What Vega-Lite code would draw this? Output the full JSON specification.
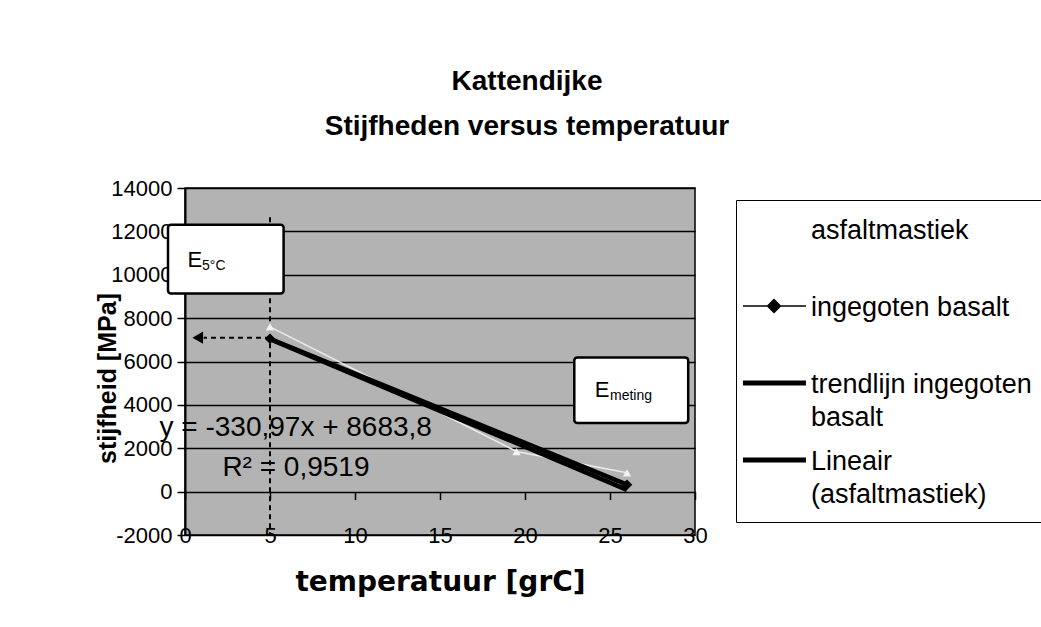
{
  "$schema": "https://vega.github.io/schema/vega-lite/v6.json",
  "width": 510,
  "height": 347,
  "autosize": {"type": "none"},
  "padding": {"left": 185, "top": 188, "right": 346, "bottom": 92},
  "background": "white",
  "config": {
    "font": "Liberation Sans",
    "view": {"stroke": "black", "strokeWidth": 1.5, "fill": "#b3b3b3"}
  },
  "title": {
    "text": ["Kattendijke", "Stijfheden versus temperatuur"],
    "font": "Liberation Sans",
    "fontSize": 28,
    "fontWeight": "bold",
    "color": "black",
    "anchor": "middle",
    "frame": "group",
    "dx": 87,
    "lineHeight": 45,
    "offset": 8,
    "baseline": "bottom"
  },
  "datasets": {
    "series": [
      {"series": "asfaltmastiek", "x": 5, "y": 7600},
      {"series": "asfaltmastiek", "x": 19.5, "y": 1850},
      {"series": "asfaltmastiek", "x": 26, "y": 870},
      {"series": "ingegoten basalt", "x": 5, "y": 7050},
      {"series": "ingegoten basalt", "x": 26, "y": 320},
      {"series": "trendlijn ingegoten basalt", "x": 5, "y": 7050},
      {"series": "trendlijn ingegoten basalt", "x": 26, "y": 320},
      {"series": "Lineair (asfaltmastiek)", "x": 5, "y": 7030},
      {"series": "Lineair (asfaltmastiek)", "x": 26, "y": 80}
    ],
    "vline": [{"x": 5, "y": 12650, "y2": -2000}],
    "harrow": [{"x": 5, "x2": 1.1, "y": 7100}],
    "arrowhead": [{"x": 0.75, "y": 7100}],
    "boxes": [
      {"x": -1, "x2": 5.8, "y": 12300, "y2": 9130},
      {"x": 22.9, "x2": 29.6, "y": 6190, "y2": 3170}
    ],
    "bigletters": [
      {"label": "E", "x": 0.15, "y": 10690},
      {"label": "E", "x": 24.1, "y": 4700}
    ],
    "subscripts": [
      {"label": "5°C", "x": 1.0, "y": 10400},
      {"label": "meting", "x": 25.0, "y": 4430}
    ],
    "equation": [
      {"label": "y = -330,97x + 8683,8", "x": -1.5, "y": 2950},
      {"label": "R² = 0,9519", "x": 2.2, "y": 1100}
    ]
  },
  "encoding": {
    "x": {
      "field": "x",
      "type": "quantitative",
      "scale": {"domain": [0, 30], "nice": false, "zero": false},
      "axis": {
        "values": [0, 5, 10, 15, 20, 25, 30],
        "offset": -43.4,
        "domain": false,
        "grid": false,
        "ticks": true,
        "tickColor": "black",
        "tickWidth": 1.5,
        "tickSize": 8,
        "labelPadding": 35.4,
        "labelBaseline": "middle",
        "labelFont": "Liberation Sans",
        "labelFontSize": 22,
        "labelColor": "black",
        "labelFlush": false,
        "title": "temperatuur [grC]",
        "titleFont": "DejaVu Sans",
        "titleFontSize": 28,
        "titleFontWeight": "bold",
        "titleColor": "black",
        "titlePadding": 22
      }
    },
    "y": {
      "field": "y",
      "type": "quantitative",
      "scale": {"domain": [-2000, 14000], "nice": false, "zero": false},
      "axis": {
        "values": [-2000, 0, 2000, 4000, 6000, 8000, 10000, 12000, 14000],
        "labelExpr": "'' + datum.value",
        "domain": true,
        "domainColor": "black",
        "domainWidth": 2,
        "grid": true,
        "gridColor": "black",
        "gridWidth": 1.5,
        "gridOpacity": 1,
        "tickColor": "black",
        "tickWidth": 1.5,
        "tickSize": 8,
        "labelPadding": 5,
        "labelFont": "Liberation Sans",
        "labelFontSize": 22,
        "labelColor": "black",
        "title": "stijfheid [MPa]",
        "titleFont": "Liberation Sans",
        "titleFontSize": 25,
        "titleFontWeight": "bold",
        "titleColor": "black",
        "titleX": -78,
        "titleY": 190,
        "titleAngle": -90,
        "titleAlign": "center",
        "titleBaseline": "middle"
      }
    }
  },
  "layer": [
    {
      "data": {"name": "vline"},
      "mark": {"type": "rule", "color": "black", "strokeWidth": 2, "strokeDash": [5, 4]},
      "encoding": {"y2": {"field": "y2"}}
    },
    {
      "data": {"name": "harrow"},
      "mark": {"type": "rule", "color": "black", "strokeWidth": 2, "strokeDash": [5, 4]},
      "encoding": {"x2": {"field": "x2"}}
    },
    {
      "data": {"name": "arrowhead"},
      "mark": {"type": "point", "shape": "triangle-left", "filled": true, "color": "black", "size": 150, "opacity": 1}
    },
    {
      "data": {"name": "series"},
      "transform": [{"filter": "datum.series == 'asfaltmastiek' || datum.series == 'ingegoten basalt'"}],
      "mark": {"type": "line", "strokeWidth": 1.5},
      "encoding": {
        "color": {
          "field": "series",
          "type": "nominal",
          "scale": {
            "domain": ["asfaltmastiek", "ingegoten basalt", "trendlijn ingegoten basalt", "Lineair (asfaltmastiek)"],
            "range": ["#ececec", "black", "black", "black"]
          },
          "legend": {
            "title": null,
            "orient": "none",
            "legendX": 551,
            "legendY": 12,
            "strokeColor": "black",
            "fillColor": "white",
            "padding": 14,
            "labelFont": "Liberation Sans",
            "labelFontSize": 27,
            "labelColor": "black",
            "labelBaseline": "top",
            "labelOffset": 31,
            "labelLimit": 400,
            "symbolSize": 900,
            "symbolStrokeWidth": 0,
            "symbolFillColor": "black",
            "rowPadding": 14,
            "labelExpr": "datum.label == 'trendlijn ingegoten basalt' ? ['trendlijn ingegoten', 'basalt'] : datum.label == 'Lineair (asfaltmastiek)' ? ['Lineair', '(asfaltmastiek)'] : [datum.label, '']",
            "encode": {
              "symbols": {
                "update": {
                  "shape": {"signal": "datum.value == 'ingegoten basalt' ? 'M-1.47,-0.05H2.73V0.05H-1.47ZM0.1,0L0.6,-0.5L1.1,0L0.6,0.5Z' : datum.value == 'asfaltmastiek' ? 'M0,0Z' : 'M-1.47,-0.17H2.73V0.17H-1.47Z'"},
                  "fill": {"signal": "datum.value == 'asfaltmastiek' ? 'white' : 'black'"},
                  "strokeWidth": {"value": 0},
                  "opacity": {"value": 1}
                }
              },
              "labels": {
                "update": {"lineHeight": {"value": 33}, "dy": {"value": -11}}
              }
            }
          }
        }
      }
    },
    {
      "data": {"name": "series"},
      "transform": [{"filter": "datum.series == 'trendlijn ingegoten basalt' || datum.series == 'Lineair (asfaltmastiek)'"}],
      "mark": {"type": "line", "strokeWidth": 4.5},
      "encoding": {
        "color": {
          "field": "series",
          "type": "nominal",
          "scale": {
            "domain": ["asfaltmastiek", "ingegoten basalt", "trendlijn ingegoten basalt", "Lineair (asfaltmastiek)"],
            "range": ["#ececec", "black", "black", "black"]
          }
        }
      }
    },
    {
      "data": {"name": "series"},
      "transform": [{"filter": "datum.series == 'asfaltmastiek'"}],
      "mark": {"type": "point", "shape": "triangle-up", "filled": true, "color": "#f2f2f2", "size": 70, "opacity": 1}
    },
    {
      "data": {"name": "series"},
      "transform": [{"filter": "datum.series == 'ingegoten basalt'"}],
      "mark": {"type": "point", "shape": "diamond", "filled": true, "color": "black", "size": 110, "opacity": 1}
    },
    {
      "data": {"name": "boxes"},
      "mark": {"type": "rect", "fill": "white", "stroke": "black", "strokeWidth": 2.5, "cornerRadius": 3},
      "encoding": {"x2": {"field": "x2"}, "y2": {"field": "y2"}}
    },
    {
      "data": {"name": "bigletters"},
      "mark": {"type": "text", "align": "left", "baseline": "middle", "fontSize": 22, "color": "black"},
      "encoding": {"text": {"field": "label"}}
    },
    {
      "data": {"name": "subscripts"},
      "mark": {"type": "text", "align": "left", "baseline": "middle", "fontSize": 14, "color": "black"},
      "encoding": {"text": {"field": "label"}}
    },
    {
      "data": {"name": "equation"},
      "mark": {"type": "text", "align": "left", "baseline": "middle", "fontSize": 28, "color": "black"},
      "encoding": {"text": {"field": "label"}}
    }
  ]
}
